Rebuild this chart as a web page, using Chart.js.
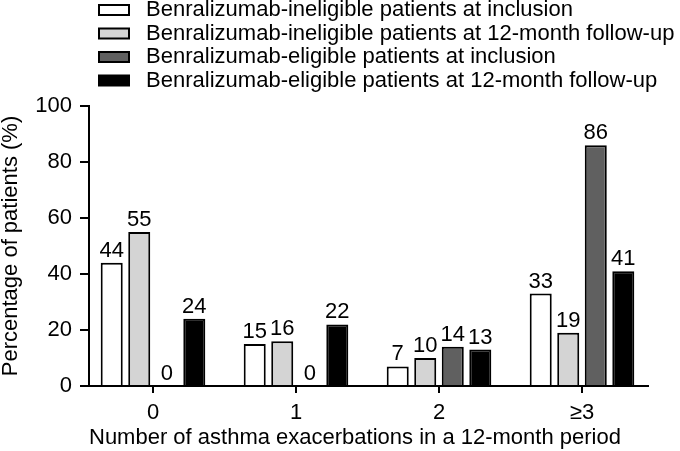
<!DOCTYPE html>
<html>
<head>
<meta charset="utf-8">
<script src="https://cdn.jsdelivr.net/npm/chart.js@4"></script>
<style>
  body { margin: 0; background: #fff; }
</style>
</head>
<body>
<canvas id="exacerbationChart" width="680" height="451"></canvas>
<script>
const categories = ['0', '1', '2', '\u22653'];
const seriesNames = [
    'Benralizumab-ineligible patients at inclusion',
    'Benralizumab-ineligible patients at 12-month follow-up',
    'Benralizumab-eligible patients at inclusion',
    'Benralizumab-eligible patients at 12-month follow-up'
];
const ineligibleInclusion = [44, 15, 7, 33];
const ineligibleFollowUp = [55, 16, 10, 19];
const eligibleInclusion = [0, 0, 14, 86];
const eligibleFollowUp = [24, 22, 13, 41];
const yTicks = [0, 20, 40, 60, 80, 100];

const fills = ['#ffffff', '#d4d4d4', '#606060', '#000000'];

Chart.defaults.font.family = '"Liberation Sans", Arial, sans-serif';
Chart.defaults.font.size = 22;
Chart.defaults.color = '#000';

// bars sit on a linear x axis so the group spacing can match the original
const toPoints = (vals) => vals.map((v, i) => ({ x: i, y: v }));

// legend is wider than the plot, so let it run past the chart area (it clips to its own box)
const legendBox = {
    id: 'legendBox',
    afterLayout(chart) {
        chart.legend.left = 97.5;
        chart.legend.right = chart.width;
    }
};

const valueLabels = {
    id: 'valueLabels',
    afterDatasetsDraw(chart) {
        const c = chart.ctx;
        c.save();
        c.font = '22px "Liberation Sans", Arial, sans-serif';
        c.fillStyle = '#000';
        c.textAlign = 'center';
        c.textBaseline = 'alphabetic';
        chart.data.datasets.forEach((ds, di) => {
            chart.getDatasetMeta(di).data.forEach((bar, i) => {
                c.fillText(String(ds.data[i].y), bar.x, bar.y - 6);
            });
        });
        c.restore();
    }
};

const ctx = document.getElementById('exacerbationChart');

new Chart(ctx, {
    type: 'bar',
    data: {
        datasets: [ineligibleInclusion, ineligibleFollowUp, eligibleInclusion, eligibleFollowUp].map((vals, k) => ({
            label: seriesNames[k],
            data: toPoints(vals),
            backgroundColor: fills[k],
            borderColor: '#000',
            borderWidth: 2,
            categoryPercentage: 0.77,
            barPercentage: 0.8
        }))
    },
    options: {
        responsive: false,
        animation: false,
        layout: { padding: { top: -2.5, right: 32, bottom: 0, left: 0 } },
        plugins: {
            tooltip: { enabled: false },
            legend: {
                position: 'top',
                align: 'start',
                fullSize: false,
                labels: {
                    boxWidth: 30,
                    boxHeight: 10,
                    padding: 1.5,
                    color: '#000',
                    font: { size: 22 },
                    generateLabels(chart) {
                        const items = Chart.defaults.plugins.legend.labels.generateLabels(chart);
                        return items.map(it => Object.assign(it, { text: ' ' + it.text }));
                    }
                }
            },
            subtitle: {
                display: true,
                text: '',
                weight: 500,
                font: { size: 1 },
                padding: { top: 0, bottom: 3.3 }
            }
        },
        scales: {
            x: {
                type: 'linear',
                offset: false,
                min: -0.4476,
                max: 3.4615,
                afterFit(scale) { scale.height = 65; },
                border: { display: true, color: '#000', width: 2 },
                grid: { offset: false, drawOnChartArea: false, drawTicks: true, tickLength: 7, color: '#000', lineWidth: 2 },
                ticks: {
                    stepSize: 1,
                    includeBounds: false,
                    autoSkip: false,
                    maxRotation: 0,
                    padding: 7,
                    color: '#000',
                    callback: (v) => categories[v]
                },
                title: {
                    display: true,
                    align: 'start',
                    text: 'Number of asthma exacerbations in a 12-month period',
                    color: '#000',
                    font: { size: 22 },
                    padding: { top: 0, bottom: 0 }
                }
            },
            y: {
                min: 0,
                max: 100,
                afterFit(scale) { scale.width = 89; },
                afterBuildTicks(scale) { scale.ticks = yTicks.map(v => ({ value: v })); },
                border: { display: true, color: '#000', width: 2 },
                grid: { drawOnChartArea: false, drawTicks: true, tickLength: 9, color: '#000', lineWidth: 2 },
                ticks: { padding: 8, color: '#000' },
                title: {
                    display: true,
                    text: 'Percentage of patients (%)',
                    color: '#000',
                    font: { size: 22 },
                    padding: { top: -2, bottom: 0 }
                }
            }
        }
    },
    plugins: [legendBox, valueLabels]
});
</script>
</body>
</html>
